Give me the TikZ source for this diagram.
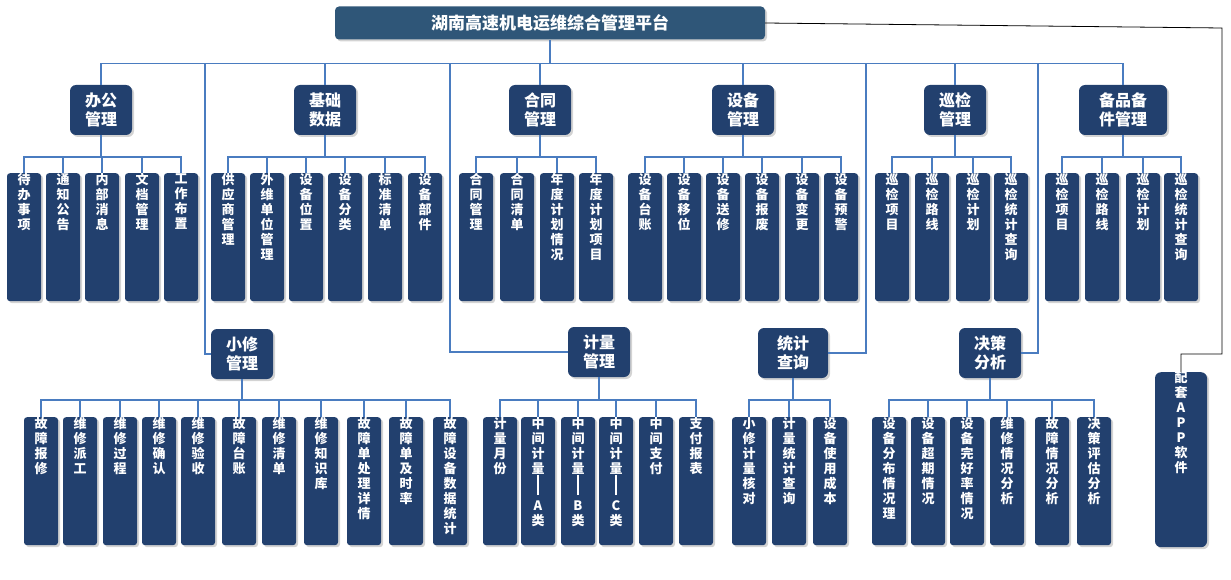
\documentclass[tikz,border=0pt]{standalone}
\usepackage{fontspec}
\setmainfont{Noto Sans CJK SC}
\usepackage{xcolor}
\usetikzlibrary{positioning, shadows}

\definecolor{navy}{HTML}{22406E}
\definecolor{steel}{HTML}{2F5678}
\definecolor{linkblue}{HTML}{4A7CC0}

% vertical text, one character per line
\newcommand\vbar{\rule{1.2pt}{20pt}}
\def\vtloop#1{\ifx#1\relax\else#1\par\expandafter\vtloop\fi}
\newcommand\vt[2][128pt]{\parbox[c][#1][t]{20pt}{\centering\baselineskip=15pt\expandafter\vtloop#2\relax}}

\tikzset{
  box/.style={fill=navy, text=white, font=\bfseries, drop shadow={opacity=0.35, shadow xshift=2pt, shadow yshift=-2pt}},
  head/.style={box, rounded corners=6pt, minimum width=62pt, minimum height=50pt, inner sep=2pt, align=center, font=\fontsize{16}{19}\selectfont\bfseries},
  leaf/.style={box, rounded corners=3pt, minimum width=34pt, inner sep=0pt, anchor=north, font=\fontsize{13}{15}\selectfont\bfseries},
  link/.style={linkblue, line width=1.2pt},
}

\begin{document}
\begin{tikzpicture}[x=1pt, y=-1pt]
    \useasboundingbox (0,0) rectangle (1231,580);

    % platform
    \node[box, rounded corners=4pt, fill=steel, minimum width=430pt, minimum height=33pt, font=\fontsize{17}{20}\selectfont\bfseries] (top) at (550,23) {湖南高速机电运维综合管理平台};

    % upper modules
    \node[head] (bg) at (101,110) {办公\\管理};
    \node[head] (jc) at (325,110) {基础\\数据};
    \node[head] (ht) at (540,110) {合同\\管理};
    \node[head] (sb) at (743,110) {设备\\管理};
    \node[head] (xj) at (955,110) {巡检\\管理};
    \node[head, minimum width=88pt] (bp) at (1123,110) {备品备\\件管理};
    \foreach \h in {bg, jc, ht, sb, xj, bp}
        \draw[link] (\h.north) -- ++(0,-21) -| (top.south);

    % taps on the bus for the lower modules
    \coordinate (b1) at (205,64);
    \coordinate (b2) at (450,64);
    \coordinate (b3) at (866,64);
    \coordinate (b4) at (1038,64);

    % upper leaves
    \foreach \x/\t [count=\i] in {24/待办事项, 63/通知公告, 102/内部消息, 142/文档管理, 181/工作布置} {
        \node[leaf] (bg\i) at (\x,173) {\vt{\t}};
        \draw[link] (bg\i.north) -- ++(0,-16) -| (bg.south);
    }
    \foreach \x/\t [count=\i] in {228/供应商管理, 267/外维单位管理, 306/设备位置, 345/设备分类, 385/标准清单, 425/设备部件} {
        \node[leaf] (jc\i) at (\x,173) {\vt{\t}};
        \draw[link] (jc\i.north) -- ++(0,-16) -| (jc.south);
    }
    \foreach \x/\t [count=\i] in {476/合同管理, 517/合同清单, 557/年度计划情况, 596/年度计划项目} {
        \node[leaf] (ht\i) at (\x,173) {\vt{\t}};
        \draw[link] (ht\i.north) -- ++(0,-16) -| (ht.south);
    }
    \foreach \x/\t [count=\i] in {645/设备台账, 684/设备移位, 723/设备送修, 762/设备报废, 802/设备变更, 841/设备预警} {
        \node[leaf] (sb\i) at (\x,173) {\vt{\t}};
        \draw[link] (sb\i.north) -- ++(0,-16) -| (sb.south);
    }
    \foreach \x/\t [count=\i] in {892/巡检项目, 932/巡检路线, 973/巡检计划, 1011/巡检统计查询} {
        \node[leaf] (xj\i) at (\x,173) {\vt{\t}};
        \draw[link] (xj\i.north) -- ++(0,-16) -| (xj.south);
    }
    \foreach \x/\t [count=\i] in {1062/巡检项目, 1102/巡检路线, 1143/巡检计划, 1181/巡检统计查询} {
        \node[leaf] (bp\i) at (\x,173) {\vt{\t}};
        \draw[link] (bp\i.north) -- ++(0,-16) -| (bp.south);
    }

    % lower modules
    \node[head] (xx) at (242,354) {小修\\管理};
    \node[head] (jl) at (599,352) {计量\\管理};
    \node[head, minimum width=70pt] (tj) at (793,353) {统计\\查询};
    \node[head] (jf) at (990,353) {决策\\分析};
    \draw[link] (xx.west) -| (b1);
    \draw[link] (jl.west) -| (b2);
    \draw[link] (tj.east) -| (b3);
    \draw[link] (jf.east) -| (b4);

    % lower leaves
    \foreach \x/\t [count=\i] in {41/故障报修, 80/维修派工, 120/维修过程, 159/维修确认, 198/维修验收, 239/故障台账, 279/维修清单, 321/维修知识库, 364/故障单处理详情, 406/故障单及时率, 450/故障设备数据统计} {
        \node[leaf] (xx\i) at (\x,417) {\vt{\t}};
        \draw[link] (xx\i.north) -- ++(0,-17) -| (xx.south);
    }
    \foreach \x/\t [count=\i] in {500/计量月份, 538/中间计量\vbar A类, 578/中间计量\vbar B类, 616/中间计量\vbar C类, 656/中间支付, 696/支付报表} {
        \node[leaf] (jl\i) at (\x,417) {\vt{\t}};
        \draw[link] (jl\i.north) -- ++(0,-17) -| (jl.south);
    }
    \foreach \x/\t [count=\i] in {749/小修计量核对, 789/计量统计查询, 830/设备使用成本} {
        \node[leaf] (tj\i) at (\x,417) {\vt{\t}};
        \draw[link] (tj\i.north) -- ++(0,-17) -| (tj.south);
    }
    \foreach \x/\t [count=\i] in {889/设备分布情况理, 928/设备超期情况, 967/设备完好率情况, 1007/维修情况分析, 1052/故障情况分析, 1094/决策评估分析} {
        \node[leaf] (jf\i) at (\x,417) {\vt{\t}};
        \draw[link] (jf\i.north) -- ++(0,-17) -| (jf.south);
    }

    % app
    \node[leaf, minimum width=52pt, rounded corners=6pt] (app) at (1181,372) {\vt[175pt]{配套APP软件}};
    \coordinate (c1) at (1222,28);
    \coordinate (c2) at (1222,354);
    \draw[black, line width=0.8pt] (top.east) -- (c1) -- (c2) -| (app.north);
\end{tikzpicture}
\end{document}
